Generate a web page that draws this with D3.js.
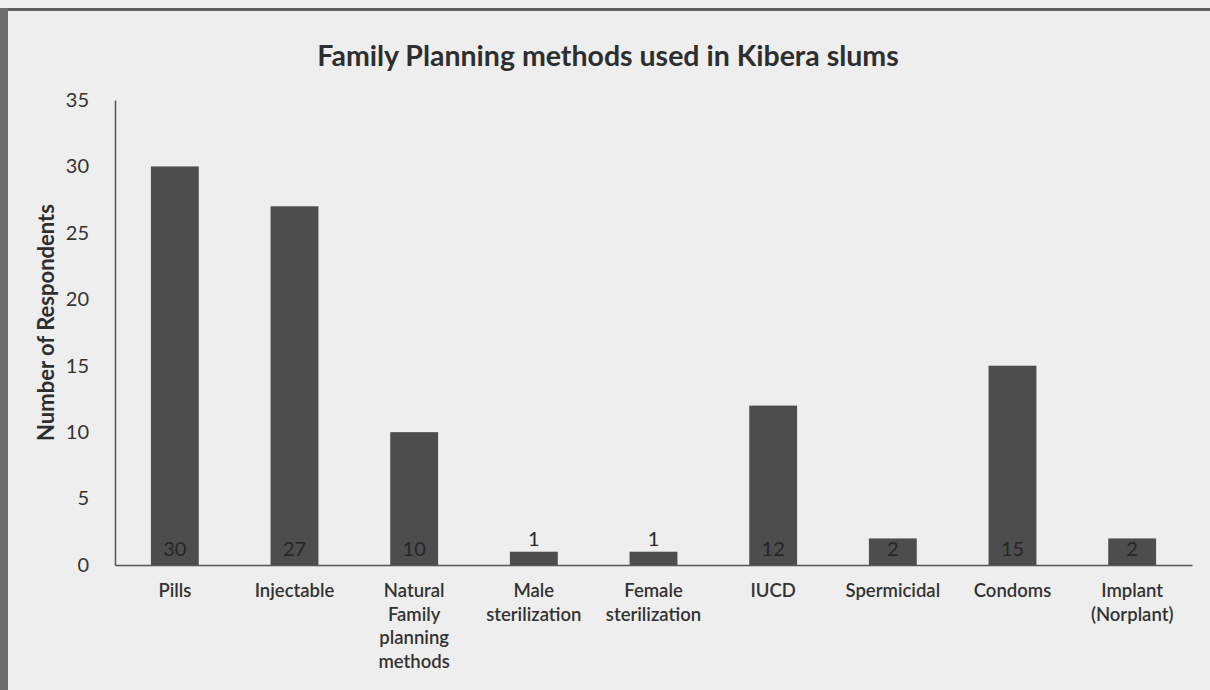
<!DOCTYPE html>
<html>
<head>
<meta charset="utf-8">
<script src="https://cdn.jsdelivr.net/npm/d3@7"></script>
<style>
  body { margin: 0; background: #ededed; }
  svg { display: block; font-family: Lato, "Open Sans", sans-serif; }
</style>
</head>
<body>
<svg id="chart" width="1210" height="690"></svg>
<script>
// chart data
var categories = [
  ["Pills"],
  ["Injectable"],
  ["Natural", "Family", "planning", "methods"],
  ["Male", "sterilization"],
  ["Female", "sterilization"],
  ["IUCD"],
  ["Spermicidal"],
  ["Condoms"],
  ["Implant", "(Norplant)"]
];
var respondents = [30, 27, 10, 1, 1, 12, 2, 15, 2];
var yTicks = [0, 5, 10, 15, 20, 25, 30, 35];
var chartTitle = "Family Planning methods used in Kibera slums";
var yTitle = "Number of Respondents";

var svg = d3.select("#chart");
var W = 1210, H = 690;
var margin = { left: 115, right: 18, top: 100, bottom: 125 };

// paper background + scan edges
svg.append("rect").attr("width", W).attr("height", H).attr("fill", "#eeeeee");
svg.append("rect").attr("x", 0).attr("y", 8).attr("width", W).attr("height", 3).attr("fill", "#5e5e5e");
svg.append("rect").attr("x", 0).attr("y", 8).attr("width", 8).attr("height", H - 8).attr("fill", "#6e6e6e");

var keys = categories.map((d, i) => i);

var x = d3.scaleBand()
  .domain(keys)
  .range([margin.left, W - margin.right])
  .paddingInner(0.6)
  .paddingOuter(0.3);

var y = d3.scaleLinear()
  .domain([0, 35])
  .range([H - margin.bottom, margin.top]);

// title
svg.append("text")
  .attr("x", 608)
  .attr("y", 66)
  .attr("text-anchor", "middle")
  .attr("font-size", 28.5)
  .attr("font-weight", "bold")
  .attr("fill", "#2e2e2e")
  .text(chartTitle);

// y axis (line only, no tick marks)
var yAxis = d3.axisLeft(y).tickValues(yTicks).tickSize(0).tickPadding(26);
svg.append("g")
  .attr("transform", `translate(${margin.left},0)`)
  .call(yAxis)
  .call(g => g.select(".domain").attr("stroke", "#555").attr("stroke-width", 1.5))
  .call(g => g.selectAll("text")
    .attr("font-size", 20)
    .attr("fill", "#333")
    .attr("font-family", "Lato, sans-serif"));

svg.append("text")
  .attr("transform", `translate(54,${(y(0) + y(35)) / 2 - 10}) rotate(-90)`)
  .attr("text-anchor", "middle")
  .attr("font-size", 22)
  .attr("font-weight", "bold")
  .attr("fill", "#2e2e2e")
  .text(yTitle);

// bars
svg.append("g")
  .selectAll("rect")
  .data(respondents)
  .join("rect")
  .attr("x", (d, i) => x(i))
  .attr("y", d => y(d))
  .attr("width", x.bandwidth())
  .attr("height", d => y(0) - y(d))
  .attr("fill", "#4d4d4d");

// x axis baseline
var xAxis = d3.axisBottom(x).tickSize(0).tickFormat("");
svg.append("g")
  .attr("transform", `translate(0,${y(0)})`)
  .call(xAxis)
  .call(g => g.select(".domain").attr("stroke", "#555").attr("stroke-width", 1.5));

// value labels: inside base, pushed above the bar when it is too short
svg.append("g")
  .selectAll("text")
  .data(respondents)
  .join("text")
  .attr("x", (d, i) => x(i) + x.bandwidth() / 2)
  .attr("y", d => (y(0) - y(d)) >= 22 ? y(0) - 9 : y(d) - 6)
  .attr("text-anchor", "middle")
  .attr("font-size", 20)
  .attr("fill", "#262626")
  .text(d => d);

// category labels, multi line
var catLabels = svg.append("g")
  .selectAll("text")
  .data(categories)
  .join("text")
  .attr("x", (d, i) => x(i) + x.bandwidth() / 2)
  .attr("y", 597)
  .attr("text-anchor", "middle")
  .attr("font-size", 18.5)
  .attr("font-weight", 600)
  .attr("fill", "#333");

catLabels.selectAll("tspan")
  .data(d => d)
  .join("tspan")
  .attr("x", function () { return this.parentNode.getAttribute("x"); })
  .attr("dy", (d, i) => i == 0 ? 0 : 23.5)
  .text(d => d);
</script>
</body>
</html>
